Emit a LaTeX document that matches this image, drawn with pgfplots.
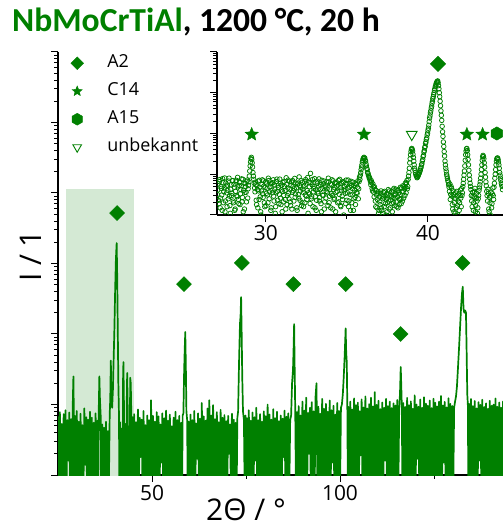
\documentclass[border=0pt]{standalone}
\usepackage{pgfplots}
\pgfplotsset{compat=1.18}
\usepackage{fontspec}
\setmainfont{Open Sans}
\newfontfamily\titlefont{Carlito}
\definecolor{dgreen}{RGB}{0,128,0}
\definecolor{shade}{RGB}{212,233,212}

% filled five-pointed star
\pgfdeclareplotmark{fstar}{%
  \pgfpathmoveto{\pgfpointpolar{90}{\pgfplotmarksize}}%
  \pgfpathlineto{\pgfpointpolar{126}{0.45\pgfplotmarksize}}%
  \pgfpathlineto{\pgfpointpolar{162}{\pgfplotmarksize}}%
  \pgfpathlineto{\pgfpointpolar{198}{0.45\pgfplotmarksize}}%
  \pgfpathlineto{\pgfpointpolar{234}{\pgfplotmarksize}}%
  \pgfpathlineto{\pgfpointpolar{270}{0.45\pgfplotmarksize}}%
  \pgfpathlineto{\pgfpointpolar{306}{\pgfplotmarksize}}%
  \pgfpathlineto{\pgfpointpolar{342}{0.45\pgfplotmarksize}}%
  \pgfpathlineto{\pgfpointpolar{18}{\pgfplotmarksize}}%
  \pgfpathlineto{\pgfpointpolar{54}{0.45\pgfplotmarksize}}%
  \pgfpathclose\pgfusepathqfillstroke}
% filled hexagon
\pgfdeclareplotmark{fhex}{%
  \pgfpathmoveto{\pgfpointpolar{90}{\pgfplotmarksize}}%
  \pgfpathlineto{\pgfpointpolar{150}{\pgfplotmarksize}}%
  \pgfpathlineto{\pgfpointpolar{210}{\pgfplotmarksize}}%
  \pgfpathlineto{\pgfpointpolar{270}{\pgfplotmarksize}}%
  \pgfpathlineto{\pgfpointpolar{330}{\pgfplotmarksize}}%
  \pgfpathlineto{\pgfpointpolar{30}{\pgfplotmarksize}}%
  \pgfpathclose\pgfusepathqfillstroke}

\begin{document}
\begin{tikzpicture}
\useasboundingbox (-58bp,-51bp) rectangle (445bp,475bp);
\clip (-58bp,-51bp) rectangle (445bp,475bp);

\begin{axis}[
  at={(0bp,0bp)}, anchor=south west,
  width=445bp, height=423bp, scale only axis,
  ymode=log,
  xmin=25, xmax=143.35, ymin=1, ymax=1e6,
  axis x line*=bottom, axis y line*=left,
  axis line style={line width=1.2bp, black},
  tick align=outside, major tick length=7bp, minor tick length=4bp,
  tick style={black, line width=1bp},
  yticklabels={},
  ticklabel style={font=\fontsize{21}{24}\selectfont},
  /pgf/number format/assume math mode=true,
  xtick={50,100}, minor xtick={75,125},
  xlabel={2Θ / °}, ylabel={I / 1},
  xlabel style={at={(axis description cs:0.4225,0)}, anchor=base, yshift=-45bp, font=\fontsize{30}{34}\selectfont},
  ylabel style={at={(axis description cs:0,0.5177)}, anchor=center, yshift=27bp, font=\fontsize{30}{34}\selectfont},
  legend style={at={(axis description cs:0,1)}, anchor=north west, xshift=8bp, yshift=-2.5bp,
    draw=none, fill=none, inner sep=0pt, outer sep=0pt, row sep=10.5bp, column sep=0pt,
    font=\fontsize{18}{21}\selectfont, nodes={inner sep=0pt, text height=13.5bp, text depth=4bp}},
  legend cell align=left,
  legend image code/.code={\path (0bp,0bp) (41bp,0bp); \draw[#1] plot coordinates {(11bp,0bp)};},
]
\addplot[forget plot, draw=none, fill=shade] coordinates {(27.1,0.5) (27.1,11400) (45.2,11400) (45.2,0.5)} -- cycle;

\addplot[forget plot, dgreen, line width=1.7bp, line join=round, mark=none] coordinates {
(25.00,6.8)(25.25,0.5)(25.50,7.8)(25.75,0.5)(26.00,5.3)(26.25,0.5)(26.50,7.3)(26.75,0.5)(27.00,8.3)(27.25,0.5)
(27.50,6.0)(27.75,1.6)(28.00,7.7)(28.25,0.5)(28.50,6.2)(28.75,0.5)(28.90,8.5)(29.00,15)(29.10,25)(29.20,8)
(29.35,0.5)(29.50,6.9)(29.75,0.5)(30.00,8.1)(30.25,0.5)(30.50,5.7)(30.75,0.5)(31.00,7.4)(31.25,0.5)(31.50,5.1)
(31.75,0.5)(32.00,8.8)(32.25,1.4)(32.50,6.6)(32.75,0.5)(33.00,6.1)(33.25,0.5)(33.50,7.9)(33.75,0.5)(34.00,6.5)
(34.25,0.5)(34.50,5.5)(34.75,0.5)(35.00,7.5)(35.25,0.5)(35.50,5.9)(35.70,0.5)(35.85,9)(36.00,25)(36.15,12)
(36.35,7)(36.50,0.5)(36.75,5.2)(37.00,0.5)(37.25,4.7)(37.50,0.5)(37.75,5.7)(38.00,0.5)(38.25,4.2)(38.50,0.5)
(38.75,7.2)(38.90,12)(39.05,42)(39.20,11)(39.40,9)(39.60,16)(39.80,44)(40.00,118)(40.20,420)(40.40,1150)
(40.60,1950)(40.75,640)(40.90,110)(41.05,20)(41.20,8)(41.35,0.5)(41.50,5.6)(41.75,0.5)(42.00,4.6)(42.15,0.5)
(42.30,22)(42.40,40)(42.55,9)(42.70,0.5)(42.90,5.3)(43.10,0.5)(43.30,12)(43.40,28)(43.55,8)(43.70,0.5)
(43.90,4.9)(44.05,0.5)(44.20,24)(44.35,20)(44.50,7)(44.65,0.5)(44.85,6.6)(45.00,0.5)(45.25,7.3)(45.50,0.5)
(45.75,5.6)(46.00,0.5)(46.25,8.5)(46.50,0.5)(46.75,6.5)(47.00,1.8)(47.25,6.1)(47.50,0.5)(47.75,8.1)(48.00,0.5)
(48.25,5.1)(48.50,0.5)(48.75,7.0)(49.00,0.5)(49.25,6.0)(49.50,0.5)(49.75,11.5)(50.00,0.5)(50.25,6.9)(50.50,0.5)
(50.75,5.7)(51.00,0.5)(51.25,7.8)(51.50,0.5)(51.75,6.8)(52.00,0.5)(52.25,5.2)(52.50,1.5)(52.75,7.5)(53.00,0.5)
(53.25,6.4)(53.50,0.5)(53.75,8.2)(54.00,0.5)(54.25,5.9)(54.50,0.5)(54.75,7.2)(55.00,0.5)(55.25,4.9)(55.50,0.5)
(55.75,6.5)(56.00,0.5)(56.25,7.9)(56.50,0.5)(56.75,6.0)(57.00,0.5)(57.25,6.9)(57.50,0.5)(57.75,5.5)(58.00,0.5)
(58.15,7.0)(58.35,7.5)(58.55,30)(58.70,60)(58.85,107)(59.00,35)(59.15,8)(59.35,6.0)(59.50,0.5)(59.75,5.7)
(60.00,0.5)(60.25,7.2)(60.50,0.5)(60.75,6.0)(61.00,0.5)(61.25,8.1)(61.50,0.5)(61.75,5.4)(62.00,1.7)(62.25,7.5)
(62.50,0.5)(62.75,6.3)(63.00,0.5)(63.25,10.5)(63.50,0.5)(63.75,6.8)(64.00,0.5)(64.25,5.9)(64.50,0.5)(64.75,8.8)
(65.00,0.5)(65.25,11.5)(65.50,0.5)(65.75,7.0)(66.00,0.5)(66.25,9.8)(66.50,0.5)(66.75,6.2)(67.00,0.5)(67.25,7.8)
(67.50,0.5)(67.75,5.6)(68.00,0.5)(68.25,8.4)(68.50,0.5)(68.75,6.5)(69.00,0.5)(69.25,7.1)(69.50,0.5)(69.75,5.8)
(70.00,0.5)(70.25,6.9)(70.50,2.0)(70.75,5.2)(71.00,0.5)(71.25,7.4)(71.50,0.5)(71.75,6.1)(72.00,0.5)(72.25,5.5)
(72.50,0.5)(72.70,6.5)(72.90,8)(73.15,40)(73.40,140)(73.55,180)(73.70,333)(73.85,100)(74.00,25)(74.20,8)
(74.45,6)(74.65,0.5)(74.85,7.0)(75.00,0.5)(75.25,6.4)(75.50,0.5)(75.75,8.3)(76.00,0.5)(76.25,5.9)(76.50,0.5)
(76.75,7.7)(77.00,0.5)(77.25,6.6)(77.50,1.6)(77.75,9.0)(78.00,0.5)(78.25,6.0)(78.50,0.5)(78.75,7.3)(79.00,0.5)
(79.25,5.7)(79.50,0.5)(79.75,8.0)(80.00,0.5)(80.25,6.8)(80.50,0.5)(80.75,10.0)(81.00,0.5)(81.25,7.2)(81.50,0.5)
(81.75,6.1)(82.00,0.5)(82.25,8.6)(82.50,0.5)(82.75,6.4)(83.00,0.5)(83.25,7.9)(83.50,0.5)(83.75,5.8)(84.00,0.5)
(84.25,7.0)(84.50,0.5)(84.75,6.3)(85.00,1.8)(85.25,8.2)(85.50,0.5)(85.75,6.7)(86.00,0.5)(86.25,7.5)(86.50,0.5)
(86.75,6.0)(87.00,7)(87.25,20)(87.50,31)(87.65,60)(87.80,138)(87.95,30)(88.10,8)(88.30,0.5)(88.50,7.8)
(88.75,0.5)(89.00,9.5)(89.25,0.5)(89.50,7.0)(89.75,0.5)(90.00,11.0)(90.25,0.5)(90.50,8.2)(90.75,0.5)(91.00,12.5)
(91.25,0.5)(91.50,7.6)(91.75,2.0)(92.00,9.0)(92.25,0.5)(92.50,10.8)(92.75,0.5)(93.00,8.0)(93.25,0.5)(93.50,13)
(93.75,20)(94.00,0.5)(94.25,9.3)(94.50,0.5)(94.75,7.4)(95.00,0.5)(95.25,12.0)(95.50,0.5)(95.75,8.7)(96.00,0.5)
(96.25,10.2)(96.50,0.5)(96.75,7.9)(97.00,0.5)(97.25,11.4)(97.50,0.5)(97.75,8.3)(98.00,1.5)(98.25,9.6)(98.50,0.5)
(98.75,7.2)(99.00,0.5)(99.25,10.5)(99.50,0.5)(99.75,8.1)(100.00,0.5)(100.25,9.0)(100.50,10)(100.75,14)(101.00,25)
(101.25,50)(101.50,120)(101.65,54)(101.80,40)(101.95,9)(102.10,0.5)(102.25,9.2)(102.50,0.5)(102.75,11.0)(103.00,0.5)
(103.25,8.5)(103.50,0.5)(103.75,12.2)(104.00,0.5)(104.25,9.8)(104.50,0.5)(104.75,10.6)(105.00,0.5)(105.25,8.0)(105.50,1.9)
(105.75,11.8)(106.00,0.5)(106.25,9.1)(106.50,0.5)(106.75,13.0)(107.00,0.5)(107.25,8.8)(107.50,0.5)(107.75,10.1)(108.00,0.5)
(108.25,12.5)(108.50,0.5)(108.75,9.4)(109.00,0.5)(109.25,15)(109.50,0.5)(109.75,9.9)(110.00,0.5)(110.25,11.3)(110.50,0.5)
(110.75,8.6)(111.00,0.5)(111.25,10.7)(111.50,0.5)(111.75,9.0)(112.00,1.6)(112.25,12.0)(112.50,0.5)(112.75,9.5)(113.00,0.5)
(113.25,11.0)(113.50,0.5)(113.75,8.9)(114.00,0.5)(114.25,10.4)(114.50,0.5)(114.75,9.7)(115.00,0.5)(115.25,11.6)(115.50,0.5)
(115.75,9.0)(115.95,14)(116.15,34)(116.30,18)(116.45,9)(116.60,0.5)(116.85,10.5)(117.10,0.5)(117.35,9.2)(117.60,0.5)
(117.85,12.4)(118.10,0.5)(118.35,9.8)(118.60,0.5)(118.85,11.1)(119.10,0.5)(119.35,8.7)(119.60,0.5)(119.85,13.5)(120.10,0.5)
(120.35,10.0)(120.60,1.7)(120.85,9.3)(121.10,0.5)(121.35,11.8)(121.60,0.5)(121.85,9.0)(122.10,0.5)(122.35,12.7)(122.60,0.5)
(122.85,10.3)(123.10,0.5)(123.35,9.6)(123.60,0.5)(123.85,11.4)(124.10,0.5)(124.35,8.9)(124.60,0.5)(124.85,12.1)(125.10,0.5)
(125.35,10.6)(125.60,0.5)(125.85,9.4)(126.10,0.5)(126.35,11.0)(126.60,0.5)(126.85,13.2)(127.10,0.5)(127.35,9.7)(127.60,1.5)
(127.85,10.9)(128.10,0.5)(128.35,9.1)(128.60,0.5)(128.85,12.3)(129.10,0.5)(129.35,10.2)(129.60,0.5)(129.85,9.5)(130.10,0.5)
(130.35,9)(130.60,11)(130.85,13)(131.10,18)(131.40,35)(131.70,70)(131.95,130)(132.20,240)(132.45,380)(132.65,468)
(132.85,230)(133.05,200)(133.30,215)(133.50,200)(133.65,70)(133.85,14)(134.00,10)(134.15,0.5)(134.35,10.2)(134.60,0.5)
(134.85,12.0)(135.10,0.5)(135.35,9.5)(135.60,0.5)(135.85,11.2)(136.10,0.5)(136.35,8.8)(136.60,0.5)(136.85,10.8)(137.10,1.6)
(137.35,9.9)(137.60,0.5)(137.85,11.7)(138.10,0.5)(138.35,9.2)(138.60,0.5)(138.85,10.4)(139.10,0.5)(139.35,8.7)(139.60,0.5)
(139.85,11.3)(140.10,0.5)(140.35,9.6)(140.60,0.5)(140.85,10.0)(141.10,0.5)(141.35,12.2)(141.60,0.5)(141.85,9.3)(142.10,0.5)
(142.35,10.7)(142.60,0.5)(142.85,9.0)(143.10,0.5)(143.35,11.0)(143.60,0.5)
};

% A2 reflections
\addplot[forget plot, only marks, dgreen, mark=square*, mark size=5.3bp, mark options={rotate=45}] coordinates {
(40.7,5200)(58.5,510)(73.9,1020)(87.6,510)(101.5,510)(116.1,100)(132.6,1020)};

\addlegendimage{only marks, dgreen, mark=square*, mark size=4.5bp, mark options={rotate=45}}
\addlegendentry{A2}
\addlegendimage{only marks, dgreen, mark=fstar, mark size=5.3bp}
\addlegendentry{C14}
\addlegendimage{only marks, dgreen, mark=fhex, mark size=6bp}
\addlegendentry{A15}
\addlegendimage{only marks, dgreen, mark=triangle, mark size=5bp, mark options={rotate=180, line width=0.9bp}}
\addlegendentry{unbekannt}
\end{axis}

% inset
\begin{axis}[
  at={(159bp,260bp)}, anchor=south west,
  width=286bp, height=163bp, scale only axis,
  ymode=log,
  xmin=26.98, xmax=44.63, ymin=1, ymax=1e4,
  axis x line*=bottom, axis y line*=left,
  axis line style={line width=1.2bp, black},
  tick align=outside, major tick length=7bp, minor tick length=4bp,
  tick style={black, line width=1bp},
  yticklabels={},
  ticklabel style={font=\fontsize{21}{24}\selectfont},
  /pgf/number format/assume math mode=true,
  xtick={30,40}, minor xtick={35},
  clip marker paths=true,
]
\addplot[only marks, dgreen, mark=o, mark size=2.3bp, mark options={line width=0.75bp}] coordinates {
(27.00,3.2)(27.05,5.8)(27.10,1.9)(27.15,7.4)(27.20,2.6)(27.25,4.5)(27.30,1.3)(27.35,6.2)(27.40,3.7)(27.45,8.1)
(27.50,2.2)(27.55,5.1)(27.60,1.6)(27.65,4.0)(27.70,6.8)(27.75,2.9)(27.80,1.1)(27.85,5.5)(27.90,3.4)(27.95,7.0)
(28.00,2.0)(28.05,4.8)(28.10,1.4)(28.15,6.5)(28.20,3.0)(28.25,8.4)(28.30,2.4)(28.35,5.3)(28.40,1.8)(28.45,4.2)
(28.50,7.7)(28.55,2.7)(28.60,1.2)(28.65,6.0)(28.70,3.6)(28.75,5.0)(28.80,2.1)(28.85,7.2)(28.90,4.4)(28.95,6.5)
(29.00,12)(29.05,20)(29.10,26)(29.15,19)(29.20,11)(29.25,7.5)(29.30,4.6)(29.35,6.4)(29.40,2.3)(29.45,5.2)
(29.50,1.5)(29.55,3.9)(29.60,7.1)(29.65,2.8)(29.70,1.0)(29.75,5.6)(29.80,3.3)(29.85,6.9)(29.90,2.0)(29.95,4.7)
(30.00,1.7)(30.05,6.1)(30.10,3.1)(30.15,8.0)(30.20,2.5)(30.25,4.9)(30.30,1.3)(30.35,5.9)(30.40,3.5)(30.45,7.3)
(30.50,2.2)(30.55,4.3)(30.60,1.6)(30.65,6.6)(30.70,3.8)(30.75,5.4)(30.80,1.9)(30.85,7.6)(30.90,2.6)(30.95,4.1)
(31.00,1.2)(31.05,6.3)(31.10,3.0)(31.15,5.0)(31.20,2.4)(31.25,8.2)(31.30,1.8)(31.35,4.6)(31.40,3.4)(31.45,6.7)
(31.50,2.1)(31.55,5.3)(31.60,1.4)(31.65,7.0)(31.70,3.9)(31.75,4.4)(31.80,2.7)(31.85,6.0)(31.90,1.5)(31.95,5.7)
(32.00,3.2)(32.05,8.6)(32.10,2.3)(32.15,4.8)(32.20,1.7)(32.25,6.4)(32.30,3.6)(32.35,5.1)(32.40,2.0)(32.45,7.4)
(32.50,2.9)(32.55,4.0)(32.60,1.1)(32.65,6.2)(32.70,3.3)(32.75,10.5)(32.80,2.5)(32.85,5.5)(32.90,1.6)(32.95,4.5)
(33.00,7.8)(33.05,2.8)(33.10,1.3)(33.15,6.8)(33.20,3.7)(33.25,5.2)(33.30,2.2)(33.35,4.2)(33.40,1.9)(33.45,7.1)
(33.50,3.1)(33.55,5.8)(33.60,1.4)(33.65,4.9)(33.70,2.6)(33.75,6.5)(33.80,3.5)(33.85,8.0)(33.90,2.0)(33.95,4.3)
(34.00,1.5)(34.05,5.6)(34.10,3.0)(34.15,6.9)(34.20,2.4)(34.25,4.7)(34.30,1.2)(34.35,6.1)(34.40,3.8)(34.45,5.4)
(34.50,2.1)(34.55,7.5)(34.60,1.7)(34.65,4.1)(34.70,2.9)(34.75,6.3)(34.80,1.0)(34.85,5.0)(34.90,3.4)(34.95,7.2)
(35.00,2.3)(35.05,4.6)(35.10,1.6)(35.15,5.9)(35.20,3.2)(35.25,6.7)(35.30,2.0)(35.35,4.4)(35.40,1.3)(35.45,5.3)
(35.50,2.7)(35.55,6.0)(35.60,3.6)(35.65,4.8)(35.70,2.5)(35.75,6.6)(35.80,7.5)(35.85,11)(35.90,15)(35.95,20)
(36.00,24)(36.05,26)(36.10,25)(36.15,21)(36.20,16)(36.25,13)(36.30,10.5)(36.35,9)(36.40,8.2)(36.45,6.5)
(36.50,7.0)(36.55,4.5)(36.60,5.8)(36.65,3.6)(36.70,4.9)(36.75,2.2)(36.80,4.0)(36.85,1.5)(36.90,3.4)(36.95,1.1)
(37.00,2.8)(37.05,1.8)(37.10,3.9)(37.15,1.3)(37.20,2.5)(37.25,3.6)(37.30,1.6)(37.35,2.9)(37.40,1.0)(37.45,3.3)
(37.50,2.0)(37.55,4.2)(37.60,1.4)(37.65,3.0)(37.70,2.3)(37.75,3.8)(37.80,1.2)(37.85,2.7)(37.90,4.5)(37.95,1.7)
(38.00,3.2)(38.05,2.1)(38.10,4.0)(38.15,1.5)(38.20,3.5)(38.25,2.4)(38.30,4.8)(38.35,1.9)(38.40,3.7)(38.45,5.2)
(38.50,2.6)(38.55,4.4)(38.60,6.0)(38.65,3.5)(38.70,7.0)(38.75,5.0)(38.80,9)(38.85,14)(38.90,24)(38.95,36)
(39.00,43)(39.05,37)(39.10,26)(39.15,17)(39.20,12.5)(39.25,10)(39.30,9)(39.35,8.5)(39.40,9.5)(39.45,10.5)
(39.50,12)(39.55,14)(39.60,17)(39.65,21)(39.70,27)(39.75,35)(39.80,45)(39.85,57)(39.90,72)(39.95,92)
(40.00,120)(40.05,160)(40.10,240)(40.15,320)(40.20,420)(40.25,550)(40.30,720)(40.35,900)(40.40,1150)(40.45,1400)
(40.50,1650)(40.55,1850)(40.60,1950)(40.65,1500)(40.70,1000)(40.75,620)(40.80,360)(40.85,210)(40.90,110)(40.95,62)
(41.00,36)(41.05,21)(41.10,14)(41.15,10)(41.20,8)(41.25,6.5)(41.30,4.8)(41.35,5.8)(41.40,3.2)(41.45,4.5)
(41.50,1.8)(41.55,3.9)(41.60,1.2)(41.65,2.6)(41.70,3.5)(41.75,1.5)(41.80,2.9)(41.85,1.0)(41.90,3.3)(41.95,2.0)
(42.00,4.1)(42.05,1.6)(42.10,3.0)(42.15,5.0)(42.20,7.5)(42.25,12)(42.30,22)(42.35,37)(42.40,43)(42.45,30)
(42.50,17)(42.55,9.5)(42.60,6)(42.65,4.2)(42.70,2.2)(42.75,3.6)(42.80,1.3)(42.85,2.8)(42.90,4.5)(42.95,1.7)
(43.00,3.4)(43.05,1.1)(43.10,2.5)(43.15,4.0)(43.20,5.5)(43.25,8)(43.30,13)(43.35,22)(43.40,29)(43.45,24)
(43.50,15)(43.55,8.5)(43.60,5.2)(43.65,3.0)(43.70,4.3)(43.75,1.4)(43.80,2.7)(43.85,1.0)(43.90,3.6)(43.95,1.9)
(44.00,4.6)(44.05,2.4)(44.10,6.0)(44.15,10)(44.20,17)(44.25,24)(44.30,25)(44.35,20)(44.40,14)(44.45,9.5)
(44.50,7)(44.55,5.5)(44.60,4.2)
};
% interleaved scan points
\addplot[only marks, dgreen, mark=o, mark size=2.3bp, mark options={line width=0.75bp}] coordinates {
(27.025,4.1)(27.075,2.3)(27.125,6.6)(27.175,1.5)(27.225,5.0)(27.275,3.1)(27.325,7.8)(27.375,2.0)(27.425,4.6)(27.475,1.2)
(27.525,6.1)(27.575,3.5)(27.625,5.4)(27.675,2.5)(27.725,8.0)(27.775,1.7)(27.825,4.3)(27.875,3.0)(27.925,6.9)(27.975,2.2)
(28.025,5.7)(28.075,1.3)(28.125,3.8)(28.175,7.1)(28.225,2.8)(28.275,4.9)(28.325,1.9)(28.375,6.3)(28.425,3.3)(28.475,5.2)
(28.525,2.1)(28.575,7.5)(28.625,4.0)(28.675,1.4)(28.725,5.9)(28.775,3.6)(28.825,6.7)(28.875,2.6)(28.925,5.3)(28.975,9)
(29.025,16)(29.075,24)(29.125,23)(29.175,15)(29.225,9)(29.275,6)(29.325,3.7)(29.375,5.5)(29.425,1.8)(29.475,4.2)
(29.525,6.8)(29.575,2.4)(29.625,4.8)(29.675,1.2)(29.725,3.9)(29.775,7.3)(29.825,2.7)(29.875,5.1)(29.925,1.6)(29.975,6.4)
(30.025,3.4)(30.075,4.5)(30.125,2.0)(30.175,7.0)(30.225,3.7)(30.275,5.8)(30.325,1.5)(30.375,4.1)(30.425,6.2)(30.475,2.9)
(30.525,5.5)(30.575,1.1)(30.625,3.5)(30.675,7.6)(30.725,2.3)(30.775,4.7)(30.825,3.2)(30.875,6.0)(30.925,1.8)(30.975,5.4)
(31.025,3.8)(31.075,2.1)(31.125,6.7)(31.175,4.0)(31.225,1.4)(31.275,5.6)(31.325,3.0)(31.375,7.2)(31.425,2.5)(31.475,4.4)
(31.525,1.7)(31.575,6.5)(31.625,3.6)(31.675,5.0)(31.725,2.2)(31.775,7.9)(31.825,3.3)(31.875,4.6)(31.925,1.3)(31.975,6.1)
(32.025,2.6)(32.075,5.3)(32.125,3.9)(32.175,7.0)(32.225,2.0)(32.275,4.3)(32.325,1.6)(32.375,6.6)(32.425,3.1)(32.475,5.7)
(32.525,2.4)(32.575,8.3)(32.625,3.5)(32.675,4.9)(32.725,1.9)(32.775,6.3)(32.825,2.8)(32.875,7.4)(32.925,3.7)(32.975,5.0)
(33.025,1.5)(33.075,4.1)(33.125,2.3)(33.175,6.0)(33.225,3.4)(33.275,7.7)(33.325,2.7)(33.375,5.5)(33.425,1.2)(33.475,4.5)
(33.525,3.0)(33.575,6.8)(33.625,2.1)(33.675,5.2)(33.725,3.8)(33.775,4.4)(33.825,1.7)(33.875,6.5)(33.925,2.9)(33.975,5.8)
(34.025,3.3)(34.075,7.3)(34.125,1.4)(34.175,4.2)(34.225,2.6)(34.275,6.2)(34.325,3.6)(34.375,5.1)(34.425,2.0)(34.475,7.0)
(34.525,3.2)(34.575,4.7)(34.625,1.6)(34.675,5.9)(34.725,2.4)(34.775,6.6)(34.825,3.9)(34.875,4.3)(34.925,1.9)(34.975,5.6)
(35.025,3.5)(35.075,7.2)(35.125,2.2)(35.175,4.8)(35.225,1.3)(35.275,5.3)(35.325,3.1)(35.375,6.4)(35.425,2.5)(35.475,4.0)
(35.525,1.8)(35.575,5.7)(35.625,3.4)(35.675,6.9)(35.725,4.4)(35.775,8.5)(35.825,9.5)(35.875,13)(35.925,17)(35.975,22)
(36.025,25)(36.075,24)(36.125,22)(36.175,18)(36.225,14)(36.275,11)(36.325,9.5)(36.375,8)(36.425,7.2)(36.475,5.5)
(36.525,6.2)(36.575,3.9)(36.625,5.0)(36.675,2.8)(36.725,4.2)(36.775,1.6)(36.825,3.1)(36.875,2.4)(36.925,3.7)(36.975,1.3)
(37.025,2.1)(37.075,3.4)(37.125,1.5)(37.175,2.9)(37.225,1.1)(37.275,2.6)(37.325,3.8)(37.375,1.9)(37.425,2.4)(37.475,1.2)
(37.525,3.1)(37.575,2.2)(37.625,3.9)(37.675,1.5)(37.725,2.8)(37.775,1.9)(37.825,4.1)(37.875,2.0)(37.925,3.0)(37.975,2.6)
(38.025,4.3)(38.075,1.6)(38.125,2.8)(38.175,3.9)(38.225,1.8)(38.275,3.2)(38.325,2.5)(38.375,4.6)(38.425,2.2)(38.475,3.8)
(38.525,5.0)(38.575,3.0)(38.625,4.8)(38.675,6.2)(38.725,4.4)(38.775,7.5)(38.825,11)(38.875,19)(38.925,30)(38.975,41)
(39.025,41)(39.075,31)(39.125,21)(39.175,14)(39.225,11)(39.275,9.2)(39.325,8.2)(39.375,8.8)(39.425,9.8)(39.475,11)
(39.525,12.5)(39.575,15)(39.625,18)(39.675,23)(39.725,29)(39.775,38)(39.825,48)(39.875,62)(39.925,78)(39.975,102)
(40.025,135)(40.075,195)(40.125,270)(40.175,360)(40.225,470)(40.275,620)(40.325,800)(40.375,1000)(40.425,1250)(40.475,1500)
(40.525,1750)(40.575,1900)(40.625,1750)(40.675,1250)(40.725,800)(40.775,480)(40.825,280)(40.875,150)(40.925,85)(40.975,48)
(41.025,28)(41.075,17)(41.125,12)(41.175,9)(41.225,7)(41.275,5.5)(41.325,3.8)(41.375,2.4)(41.425,5.0)(41.475,2.9)
(41.525,1.4)(41.575,3.2)(41.625,2.0)(41.675,1.1)(41.725,2.5)(41.775,3.8)(41.825,1.7)(41.875,2.2)(41.925,1.3)(41.975,3.0)
(42.025,2.6)(42.075,4.4)(42.125,3.5)(42.175,6.0)(42.225,9.5)(42.275,16)(42.325,30)(42.375,42)(42.425,38)(42.475,23)
(42.525,12.5)(42.575,7.5)(42.625,5.0)(42.675,3.0)(42.725,1.6)(42.775,2.9)(42.825,2.0)(42.875,3.8)(42.925,1.2)(42.975,2.6)
(43.025,2.2)(43.075,1.5)(43.125,3.0)(43.175,4.6)(43.225,6.5)(43.275,10)(43.325,17)(43.375,27)(43.425,27)(43.475,19)
(43.525,11)(43.575,6.5)(43.625,3.8)(43.675,2.2)(43.725,3.4)(43.775,1.2)(43.825,2.0)(43.875,2.9)(43.925,1.5)(43.975,3.3)
(44.025,3.0)(44.075,4.8)(44.125,8)(44.175,13)(44.225,21)(44.275,25)(44.325,23)(44.375,17)(44.425,11)(44.475,8)
(44.525,6)(44.575,5)
};
% phase markers
\addplot[only marks, dgreen, mark=fstar, mark size=7bp] coordinates {(29.12,95)(36.05,95)(42.40,95)(43.37,95)};
\addplot[only marks, dgreen, mark=triangle, mark size=6.2bp, mark options={rotate=180, line width=0.9bp}] coordinates {(39.0,95)};
\addplot[only marks, dgreen, mark=square*, mark size=5.5bp, mark options={rotate=45}] coordinates {(40.62,5100)};
\addplot[only marks, dgreen, mark=fhex, mark size=6.7bp] coordinates {(44.25,100)};
\end{axis}

\node[anchor=base west, inner sep=0pt, font=\titlefont\bfseries\fontsize{33.7}{37}\selectfont] at (-46bp,443bp)
  {\textcolor{dgreen}{NbMoCrTiAl}, 1200 °C, 20 h};
\end{tikzpicture}
\end{document}
